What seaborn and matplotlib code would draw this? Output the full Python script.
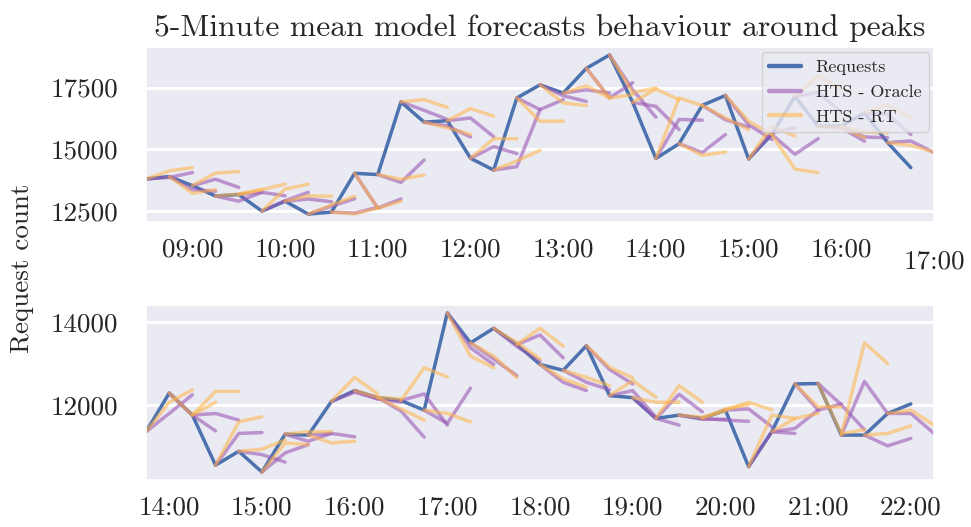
import matplotlib
matplotlib.use("Agg")
import matplotlib.pyplot as plt
import matplotlib.transforms as mtransforms
from matplotlib.lines import Line2D
import pandas as pd
import seaborn as sns

# ---------------------------------------------------------------------------
# Data: two peak windows sampled every 15 minutes.
# Each forecast starts at the observed value of its origin and runs two steps.
# ---------------------------------------------------------------------------
DAY = "2021-03-01"
STEP = "15min"

top_start = "08:30"
top_requests = [13800, 13900, 13530, 13110, 13170, 12500, 12900, 12380, 12460,
                14030, 13980, 16920, 16100, 16160, 14640, 14160, 17080, 17610,
                17280, 18280, 18820, 16900, 14630, 15230, 16780, 17180, 14610,
                15600, 17140, 15940, 15940, 16470, 15270, 14260]
top_oracle = [[13860, 14060], [13370, 13300], [13790, 13460], [12900, 13260],
              [13260, 13120], [12920, 13260], [12990, 12880], [12700, 13000],
              [12420, 12650], [12620, 12990], [13660, 14570], [16580, 16210],
              [15950, 15500], [16270, 15510], [15110, 14830], [14300, 16610],
              [16610, 17010], [17170, 16940], [17410, 17280], [17080, 17700],
              [17410, 16300], [16740, 15800], [16210, 16180], [14870, 15600],
              [16200, 15900], [16000, 15400], [15670, 15870], [14800, 15430],
              [17300, 16500], [15870, 15330], [15500, 15470], [16410, 15600],
              [15340, 14870]]
top_rt = [[14130, 14260], [13220, 13370], [14040, 14100], [13190, 13370],
          [13370, 13590], [13390, 13590], [13120, 13100], [12750, 13100],
          [12390, 12620], [12620, 12900], [13790, 13960], [17010, 16700],
          [15870, 15600], [16650, 16340], [15430, 15430], [14530, 14960],
          [16140, 16140], [16880, 16770], [17570, 17080], [17080, 17210],
          [17300, 17480], [17440, 17010], [17080, 16770], [14760, 14890],
          [16270, 15800], [16140, 15600], [15940, 15540], [14200, 14060],
          [17980, 17440], [15870, 15470], [15700, 15670], [16800, 16270],
          [15160, 14890]]
top_ticks = ["09:00", "10:00", "11:00", "12:00", "13:00", "14:00", "15:00",
             "16:00", "17:00"]
top_yticks = [12500, 15000, 17500]

bottom_start = "13:45"
bottom_requests = [11350, 12280, 11750, 10545, 10880, 10380, 11290, 11270,
                   12080, 12340, 12170, 12100, 11870, 14210, 13490, 13840,
                   13450, 12970, 12830, 13420, 12220, 12170, 11670, 11750,
                   11670, 11870, 10510, 11350, 12500, 12510, 11270, 11270,
                   11790, 12020]
bottom_oracle = [[11790, 12240], [11750, 11370], [11790, 11630], [11310, 11330],
                 [10800, 10620], [10840, 11040], [11120, 11310], [11310, 11230],
                 [12300, 12140], [12140, 12060], [11850, 11220], [12260, 11510],
                 [11550, 12400], [13370, 12970], [13100, 12700], [13400, 13050],
                 [13680, 13130], [12540, 12340], [12540, 12360], [12850, 12500],
                 [12340, 11700], [11670, 11510], [12250, 11830], [11650, 11650],
                 [11630, 11600], [11900, 11470], [11350, 11310], [11430, 11870],
                 [11870, 12020], [12000, 11400], [12560, 11790], [11010, 11190],
                 [11790, 11310]]
bottom_rt = [[12060, 12360], [11750, 12060], [12320, 12320], [11590, 11710],
             [10930, 11150], [11080, 11040], [11350, 11350], [11080, 11120],
             [12660, 12260], [12180, 12140], [11900, 11630], [12890, 12670],
             [11790, 11590], [13170, 12890], [13170, 12660], [13500, 13100],
             [13840, 13410], [12620, 12420], [12660, 12460], [12900, 12650],
             [12580, 12180], [12060, 12060], [12460, 12060], [11700, 11850],
             [11900, 12000], [12060, 11880], [11750, 11670], [11670, 11790],
             [11950, 11950], [11300, 11400], [13490, 12990], [11310, 11490],
             [11870, 11510]]
bottom_ticks = ["14:00", "15:00", "16:00", "17:00", "18:00", "19:00", "20:00",
                "21:00", "22:00"]
bottom_yticks = [12000, 14000]

WINDOW_STEPS = 34  # 8.5 hours shown in each panel

COLORS = {"Requests": "#4C72B0", "HTS - Oracle": "#9B59B6", "HTS - RT": "#FFB547"}
ALPHAS = {"Requests": 1.0, "HTS - Oracle": 0.6, "HTS - RT": 0.55}
LW = 2.5


def build_frames(start, requests, oracle, rt):
    times = pd.date_range(f"{DAY} {start}", periods=WINDOW_STEPS + 3, freq=STEP)
    actual = pd.DataFrame({"time": times[:len(requests)], "value": requests})
    rows = []
    for model, forecasts in (("HTS - Oracle", oracle), ("HTS - RT", rt)):
        for origin, (f1, f2) in enumerate(forecasts):
            path = [requests[origin], f1, f2]
            for k, v in enumerate(path):
                rows.append({"model": model, "origin": origin,
                             "time": times[origin + k], "value": v})
    return times, actual, pd.DataFrame(rows)


sns.set_theme(style="darkgrid")
plt.rcParams["font.family"] = "serif"
plt.rcParams["font.serif"] = ["cmr10"]
plt.rcParams["mathtext.fontset"] = "cm"
plt.rcParams["axes.formatter.use_mathtext"] = True
plt.rcParams["axes.unicode_minus"] = False

fig = plt.figure(figsize=(9.71, 5.27), dpi=100)
ax_top = fig.add_axes([0.1504, 0.5787, 0.8115, 0.3321])
ax_bot = fig.add_axes([0.1504, 0.0892, 0.8115, 0.3321])

panels = [
    (ax_top, top_start, top_requests, top_oracle, top_rt, top_ticks, top_yticks),
    (ax_bot, bottom_start, bottom_requests, bottom_oracle, bottom_rt,
     bottom_ticks, bottom_yticks),
]

for ax, start, req, orc, rt, hours, yticks in panels:
    times, actual, fc = build_frames(start, req, orc, rt)
    sns.lineplot(data=actual, x="time", y="value", ax=ax,
                 color=COLORS["Requests"], lw=LW, alpha=ALPHAS["Requests"])
    for model in ("HTS - Oracle", "HTS - RT"):
        sns.lineplot(data=fc[fc["model"] == model], x="time", y="value",
                     units="origin", estimator=None, ax=ax,
                     color=COLORS[model], alpha=ALPHAS[model], lw=LW,
                     legend=False)
    ax.set_xlim(times[0], times[WINDOW_STEPS])
    ax.set_xticks(pd.to_datetime([f"{DAY} {h}" for h in hours]))
    ax.set_xticklabels(hours)
    ax.set_yticks(yticks)
    ax.set_yticklabels([str(v) for v in yticks])
    ax.set_xlabel("")
    ax.set_ylabel("")
    ax.grid(axis="x", visible=False)
    ax.grid(axis="y", color="white", linewidth=2.2)
    ax.tick_params(axis="both", labelsize=19.5, length=0)
    ax.tick_params(axis="x", pad=11)
    ax.tick_params(axis="y", pad=20)

# last hour label of the upper panel sits a little lower
last = ax_top.get_xticklabels()[-1]
last.set_transform(last.get_transform()
                   + mtransforms.ScaledTranslation(0, -9 / 72, fig.dpi_scale_trans))

ax_top.set_title("5-Minute mean model forecasts behaviour around peaks",
                 fontsize=22.7, pad=8)
fig.text(0.0227, 1 - 268 / 527, "Request count", rotation=90,
         ha="center", va="center", fontsize=19.5)

handles = [Line2D([], [], color=COLORS[m], alpha=ALPHAS[m], lw=3.2)
           for m in ("Requests", "HTS - Oracle", "HTS - RT")]
ax_top.legend(handles, ["Requests", "HTS - Oracle", "HTS - RT"],
              loc="upper right", fontsize=13, borderaxespad=0.3,
              handlelength=1.8)

fig.savefig("out.png", dpi=100)
